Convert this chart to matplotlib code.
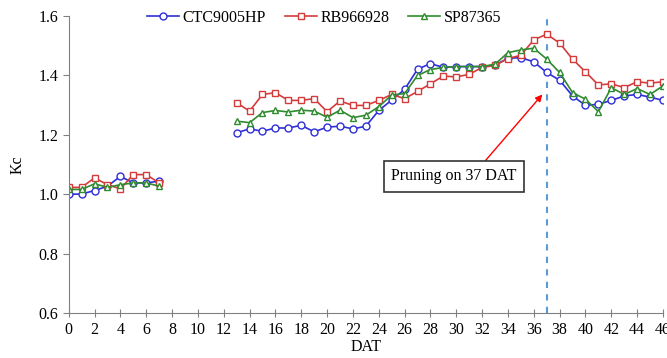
import matplotlib
matplotlib.use('Agg')
import matplotlib.pyplot as plt
import numpy as np

plt.rcParams['font.family'] = ['Liberation Serif', 'DejaVu Serif']

# Days after transplanting with measurements (gap between 7 and 13)
dat_early = [0, 1, 2, 3, 4, 5, 6, 7]
dat_late = list(range(13, 47))

ctc_early = [0.999, 1.001, 1.012, 1.027, 1.060, 1.038, 1.038, 1.044]
rb_early = [1.023, 1.023, 1.055, 1.032, 1.018, 1.066, 1.066, 1.038]
sp_early = [1.016, 1.016, 1.035, 1.023, 1.032, 1.038, 1.038, 1.027]

ctc_late = [1.207, 1.220, 1.212, 1.223, 1.223, 1.232, 1.210, 1.226, 1.229, 1.220,
            1.229, 1.282, 1.317, 1.353, 1.421, 1.440, 1.427, 1.430, 1.430, 1.430,
            1.435, 1.458, 1.460, 1.446, 1.410, 1.384, 1.331, 1.299, 1.303, 1.316,
            1.331, 1.336, 1.327, 1.316]
rb_late = [1.308, 1.280, 1.336, 1.342, 1.316, 1.316, 1.322, 1.278, 1.314, 1.299,
           1.299, 1.316, 1.336, 1.322, 1.346, 1.372, 1.398, 1.395, 1.404, 1.427,
           1.434, 1.457, 1.468, 1.520, 1.539, 1.509, 1.455, 1.412, 1.368, 1.372,
           1.359, 1.379, 1.374, 1.379]
sp_late = [1.246, 1.241, 1.275, 1.282, 1.277, 1.283, 1.280, 1.259, 1.283, 1.258,
           1.266, 1.295, 1.334, 1.339, 1.400, 1.420, 1.427, 1.430, 1.430, 1.430,
           1.438, 1.477, 1.486, 1.492, 1.455, 1.410, 1.342, 1.320, 1.278, 1.359,
           1.336, 1.356, 1.336, 1.365]

series = [
    ('CTC9005HP', ctc_early, ctc_late, '#2f2fd6', 'o'),
    ('RB966928', rb_early, rb_late, '#d43c3c', 's'),
    ('SP87365', sp_early, sp_late, '#2e8b2e', '^'),
]

fig = plt.figure(figsize=(6.67, 3.58), dpi=100)
ax = fig.add_axes([0.103, 0.126, 0.891, 0.829])

for name, early, late, color, marker in series:
    style = dict(color=color, marker=marker, markersize=5, markerfacecolor='white',
                 markeredgecolor=color, markeredgewidth=1.0, linewidth=1.2)
    ax.plot(dat_early, early, label=name, **style)
    ax.plot(dat_late, late, **style)

ax.axvline(37, color='#5b9bd5', linestyle=(0, (3, 3)), linewidth=1.5, zorder=0)

ax.annotate('Pruning on 37 DAT', xy=(36.8, 1.343), xytext=(29.8, 1.06),
            ha='center', va='center', fontsize=11.5,
            bbox=dict(boxstyle='square,pad=0.45', facecolor='white', edgecolor='#333333', linewidth=1.2),
            arrowprops=dict(arrowstyle='-|>', color='red', linewidth=1.0, shrinkA=0, mutation_scale=10,
                            relpos=(0.7, 1.0)))

ax.set_xlim(0, 46)
ax.set_ylim(0.6, 1.6)
ax.set_xticks(np.arange(0, 47, 2))
ax.set_yticks(np.arange(0.6, 1.61, 0.2))
ax.set_yticklabels(['0.6', '0.8', '1.0', '1.2', '1.4', '1.6'])
ax.tick_params(labelsize=11.5, color='#808080', length=4)
ax.tick_params(axis='x', direction='inout', length=6)

for side in ['top', 'right']:
    ax.spines[side].set_visible(False)
for side in ['left', 'bottom']:
    ax.spines[side].set_color('#808080')

ax.set_xlabel('DAT', fontsize=11.5, labelpad=1)
ax.set_ylabel('Kc', fontsize=11.5, labelpad=9)

ax.legend(loc='upper center', bbox_to_anchor=(0.43, 1.07), ncol=3, frameon=False,
          fontsize=11.5, handlelength=2.0, handletextpad=0.2, columnspacing=1.2)

fig.savefig('out.png', dpi=100)
